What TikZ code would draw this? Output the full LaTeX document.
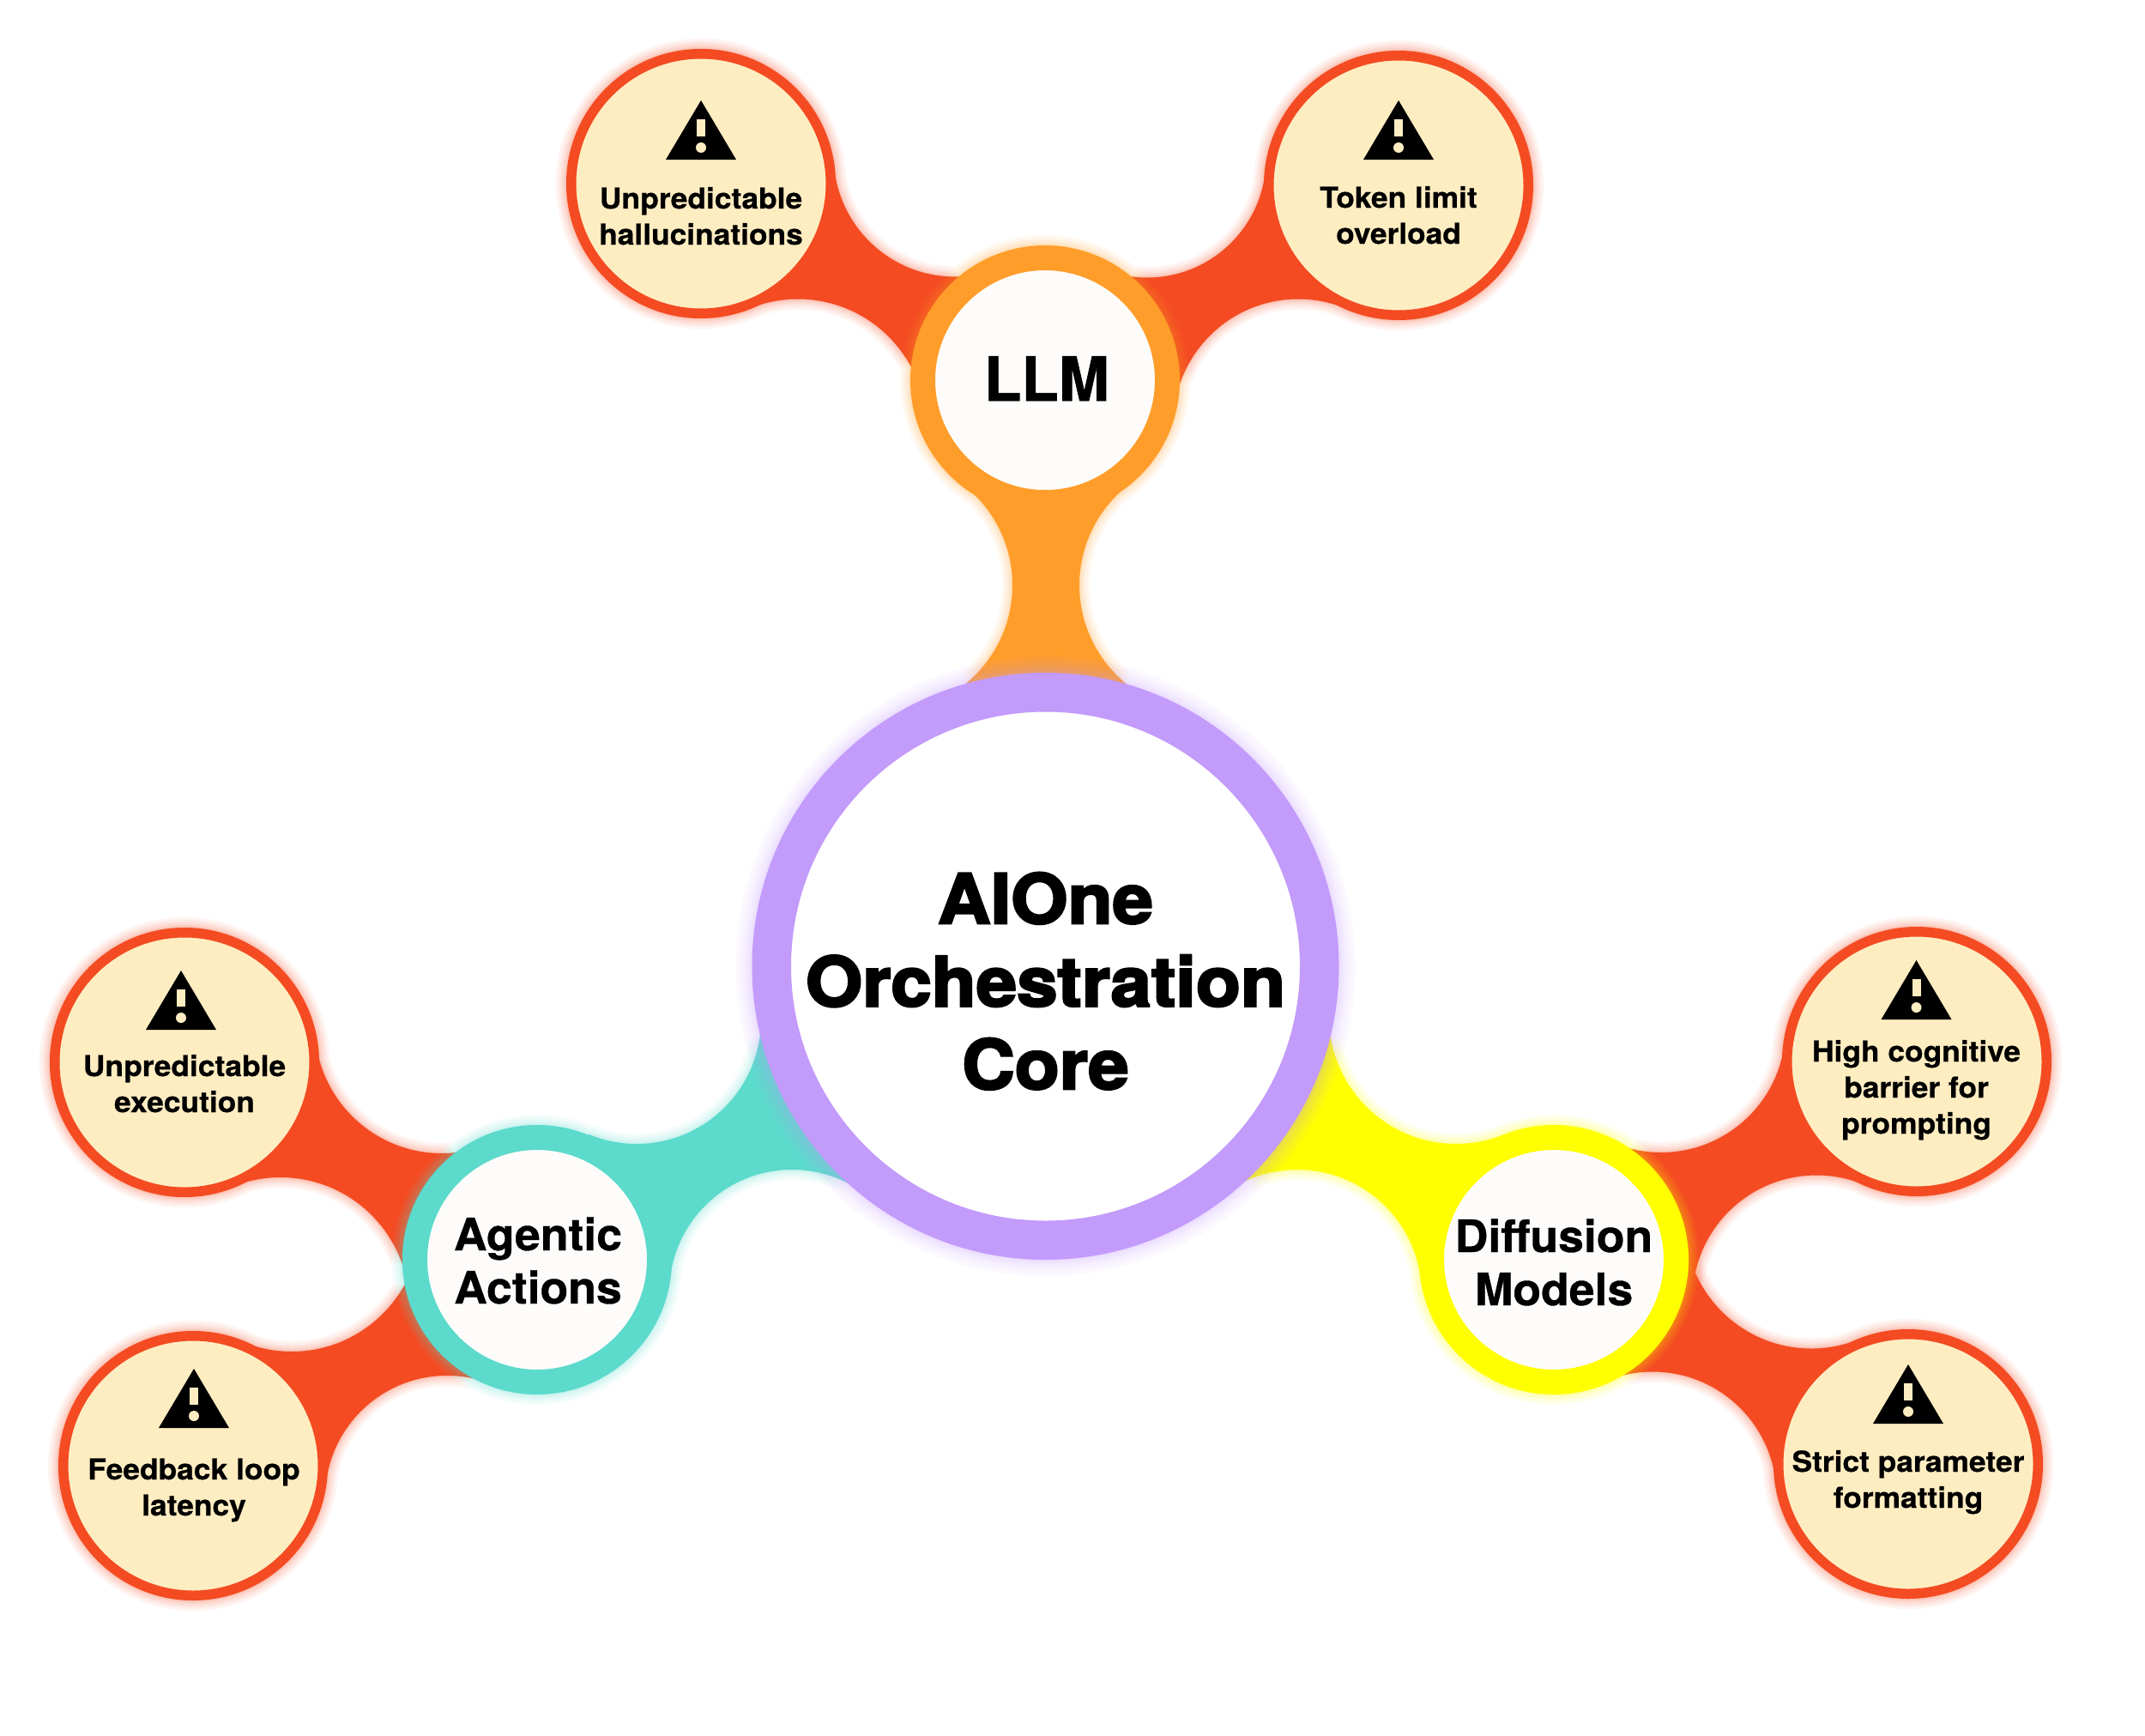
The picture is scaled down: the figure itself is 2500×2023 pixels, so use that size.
\documentclass[tikz,border=0pt]{standalone}
\usepackage{fontspec}
\newfontfamily\leaffont{TeX Gyre Heros}[UprightFont={* Bold},FakeStretch=1.055,FakeBold=0.6]
\newfontfamily\branchfont{TeX Gyre Heros}[UprightFont={* Bold},FakeStretch=1.03,FakeBold=0.7]
\newfontfamily\llmfont{TeX Gyre Heros}[UprightFont={* Bold},FakeStretch=1.0,FakeBold=1.0]
\newfontfamily\corefont{TeX Gyre Heros}[UprightFont={* Bold},FakeStretch=1.065,FakeBold=3.2]
\definecolor{redc}{HTML}{F44B22}
\definecolor{orangec}{HTML}{FF9D2A}
\definecolor{purplec}{HTML}{C39BFB}
\definecolor{tealc}{HTML}{5CDACC}
\definecolor{yellowc}{HTML}{FFFF00}
\definecolor{creamc}{HTML}{FFEDC2}
\definecolor{offwhite}{HTML}{FDFCFA}
\tikzset{
  ball/.style={circle,inner sep=0pt,outer sep=0pt},
  leafball/.style={ball,minimum size=151.25pt,line width=5.75pt,draw=redc,fill=creamc},
  branchball/.style={ball,minimum size=142.5pt,line width=14.5pt,fill=offwhite},
  coreball/.style={ball,minimum size=319.25pt,line width=22.75pt,draw=purplec,fill=white},
  leaftext/.style={anchor=base,align=center,inner sep=0pt,text=black,font=\leaffont\fontsize{16.75pt}{21pt}\selectfont},
  branchtext/.style={anchor=base,align=center,inner sep=0pt,text=black,font=\branchfont\fontsize{26pt}{31pt}\selectfont},
  llmtext/.style={anchor=base,align=center,inner sep=0pt,text=black,font=\llmfont\fontsize{35.5pt}{40pt}\selectfont},
  coretext/.style={anchor=base,align=center,inner sep=0pt,text=black,font=\corefont\fontsize{40pt}{48.25pt}\selectfont},
}
% concave connector: colour, end A, arc centre 1, radius 1, end B, arc centre 2, radius 2, disc radius A, disc radius B
\newcommand\conn[9]{%
  \foreach \g in {1,...,8}{%
    \begin{scope}[even odd rule]
      \clip (-100,-100) rectangle (2600,2200) (#3) circle[radius={#4-\g*\g*0.19}];
      \clip (-100,-100) rectangle (2600,2200) (#6) circle[radius={#7-\g*\g*0.19}];
      \clip (-100,-100) rectangle (2600,2200) (#2) circle[radius={#8+\g*\g*0.19}];
      \clip (-100,-100) rectangle (2600,2200) (#5) circle[radius={#9+\g*\g*0.19}];
      \fill[#1,opacity=.06] (#2) -- (#3) -- (#5) -- (#6) -- cycle;
    \end{scope}}%
  \begin{scope}[even odd rule]
    \clip (-100,-100) rectangle (2600,2200) (#3) circle[radius=#4];
    \clip (-100,-100) rectangle (2600,2200) (#6) circle[radius=#7];
    \fill[#1] (#2) -- (#3) -- (#5) -- (#6) -- cycle;
  \end{scope}}
% soft halo round a disc: colour, centre, outer radius, spread
\newcommand\halo[4]{%
  \foreach \g in {1,...,8}{\fill[#1,opacity=.06] (#2) circle[radius={#3+\g*\g*#4}];}}
% warning sign from its apex
\newcommand\warn[1]{%
  \begin{scope}[shift={(#1)}]
    \fill[black] (0,0) -- (-41,69) -- (41,69) -- cycle;
    \fill[creamc] (-5,22) rectangle (5,42);
    \fill[creamc] (0,55) circle[radius=6];
  \end{scope}}
\begin{document}
\begin{tikzpicture}[x=0.5pt,y=-0.5pt]
\useasboundingbox (0,0) rectangle (2500,2023);
% centres
\coordinate (core) at (1218.5,1126);
\coordinate (llm) at (1218,443);
\coordinate (agentic) at (626,1468);
\coordinate (diffusion) at (1811,1468);
\coordinate (halluc) at (817,214);
\coordinate (token) at (1630,216);
\coordinate (exec) at (215,1238);
\coordinate (feedback) at (225,1708);
\coordinate (barrier) at (2234,1237);
\coordinate (strict) at (2224,1706);
% connector arcs
\conn{orangec}{core}{1032,682}{148}{llm}{1406,682}{148}{342}{157}
\conn{tealc}{core}{742,1188}{145}{agentic}{923,1506}{143}{342}{157}
\conn{yellowc}{core}{1697,1185}{148}{diffusion}{1512,1508}{145}{342}{157}
\conn{redc}{llm}{1113,181}{141.5}{halluc}{930,498}{149.5}{157}{157}
\conn{redc}{llm}{1337,185}{138.5}{token}{1513,494}{145.5}{157}{157}
\conn{redc}{agentic}{515,1196}{148}{exec}{327,1522}{150}{157}{157}
\conn{redc}{agentic}{340,1425}{150}{feedback}{521,1745}{142}{157}{157}
\conn{redc}{diffusion}{1936,1198}{145}{barrier}{2117,1514}{144.5}{157}{157}
\conn{redc}{diffusion}{2111,1424}{147.5}{strict}{1926,1743}{144.5}{157}{157}
% halos
\halo{redc}{halluc}{157}{0.19}
\halo{redc}{token}{157}{0.19}
\halo{redc}{exec}{157}{0.19}
\halo{redc}{feedback}{157}{0.19}
\halo{redc}{barrier}{157}{0.19}
\halo{redc}{strict}{157}{0.19}
\halo{orangec}{llm}{157}{0.19}
\halo{tealc}{agentic}{157}{0.19}
\halo{yellowc}{diffusion}{157}{0.19}
\halo{purplec}{core}{342}{0.3}
% discs
\node[coreball] (coredisc) at (core) {};
\node[branchball,draw=orangec] (llmdisc) at (llm) {};
\node[branchball,draw=tealc] (agenticdisc) at (agentic) {};
\node[branchball,draw=yellowc] (diffusiondisc) at (diffusion) {};
\node[leafball] (hallucdisc) at (halluc) {};
\node[leafball] (tokendisc) at (token) {};
\node[leafball] (execdisc) at (exec) {};
\node[leafball] (feedbackdisc) at (feedback) {};
\node[leafball] (barrierdisc) at (barrier) {};
\node[leafball] (strictdisc) at (strict) {};
% signs
\warn{817,117}
\warn{1630,117}
\warn{211,1131}
\warn{226,1595}
\warn{2233.5,1119}
\warn{2224,1590}
% texts (placed by the baseline of the last line)
\node[coretext] (coret) at (1218.5,1269) {AIOne\\Orchestration\\Core};
\node[llmtext] (llmt) at (1220,467) {LLM};
\node[branchtext] (agentict) at (627,1519) {Agentic\\Actions};
\node[branchtext] (diffusiont) at (1811,1521) {Diffusion\\Models};
\node[leaftext] (halluct) at (817,285) {Unpredictable\\hallucinations};
\node[leaftext] (tokent) at (1630,284) {Token limit\\overload};
\node[leaftext] (exect) at (215,1296) {Unpredictable\\execution};
\node[leaftext] (feedbackt) at (226,1766) {Feedback loop\\latency};
\node[leaftext] (barriert) at (2233.5,1321) {High cognitive\\barrier for\\prompting};
\node[leaftext] (strictt) at (2224,1757) {Strict parameter\\formatting};
\end{tikzpicture}
\end{document}
